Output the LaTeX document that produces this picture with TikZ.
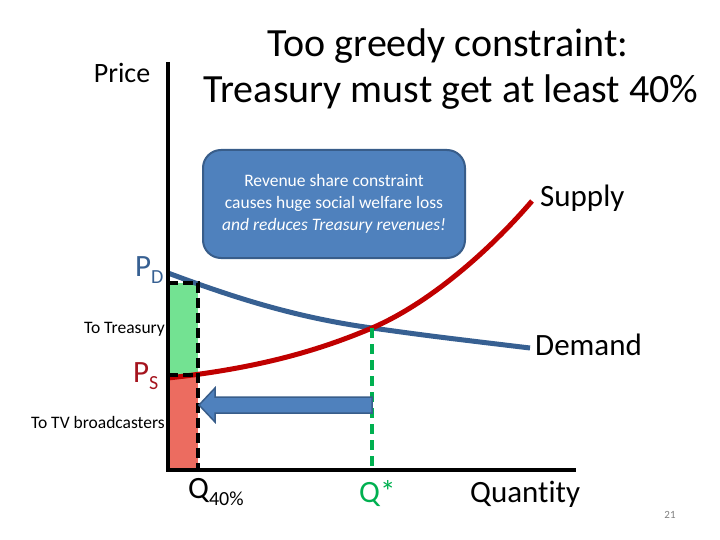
\documentclass[tikz,border=0pt]{standalone}
\usepackage{fontspec}
\setmainfont{Carlito}[Ligatures=NoCommon]
\usetikzlibrary{calc}
\usetikzlibrary{arrows.meta}

\definecolor{boxblue}{RGB}{79,129,189}
\definecolor{boxedge}{RGB}{56,93,138}
\definecolor{demandblue}{RGB}{55,96,146}
\definecolor{supplyred}{RGB}{192,0,0}
\definecolor{psred}{RGB}{165,20,30}
\definecolor{qgreen}{RGB}{0,176,80}
\definecolor{treasurygreen}{RGB}{115,226,146}
\definecolor{tvred}{RGB}{236,108,96}

\newcommand{\fsize}[2]{\fontsize{#1}{#2}\selectfont}
\newcommand{\lowsub}[1]{\raisebox{-7pt}{\fsize{20}{24}#1}}

\begin{document}
\begin{tikzpicture}[x=1pt, y=-1pt, font=\fsize{31}{37}, inner sep=0pt,
    notebox/.style={rounded corners=18pt, fill=boxblue, draw=boxedge, line width=2pt,
      text=white, align=center, minimum width=262pt, minimum height=108pt,
      font=\fsize{17.5}{22}},
    smalllabel/.style={font=\fsize{17.5}{21}},
    blackdash/.style={line width=4pt, dash pattern=on 10pt off 5pt},
    curve/.style={line width=5pt}]
  \useasboundingbox (0,0) rectangle (720,540);
  % ---------------------------------------------------------------- axes and key points
  \coordinate (o) at (168,470);
  \coordinate (ytop) at (168,62);
  \coordinate (xend) at (576,470);
  \coordinate (pd) at (168,283);
  \coordinate (ps) at (168,375);
  \coordinate (q40) at (198,470);
  \coordinate (eq) at (372,328);
  % the two shares of the price
  \fill[treasurygreen] (pd) rectangle (q40 |- ps);
  \fill[tvred] (ps) rectangle (q40);
  % demand and supply
  \draw[demandblue, curve] (168,273) .. controls (240,300) and (300,318) .. (eq)
    .. controls (430,336) .. (530,348);
  \draw[supplyred, curve] (168,378) .. controls (260,368) and (320,350) .. (eq)
    .. controls (430,303) and (490,250) .. (532,201);
  % dashed guides
  \draw[blackdash] (pd) -- (q40 |- pd) -- (q40);
  \draw[blackdash] (ps) -- (q40 |- ps);
  \draw[qgreen, line width=4pt, dash pattern=on 10pt off 6pt] (eq) -- (eq |- o);
  % axes
  \draw[line width=4pt] (ytop) -- (o) -- (xend);
  % the block arrow from Q* back to Q40%
  \filldraw[fill=boxblue, draw=boxedge, line width=1.5pt]
    (372,397) -- (215,397) -- (215,388) -- (199,405) -- (215,422) -- (215,413) -- (372,413) -- cycle;
  % ---------------------------------------------------------------- texts
  \node[notebox] (note) at (334,204)
    {Revenue share constraint\\causes huge social welfare loss\\\textit{and reduces Treasury revenues!}};
  \node[anchor=base] (title1) at (448,57) {\fsize{40}{46}Too greedy constraint:};
  \node[anchor=base] (title2) at (451,103) {\fsize{40}{46}Treasury must get at least 40\%};
  \node[anchor=base] (price) at (122,83) {\fsize{28}{34}Price};
  \node[anchor=base west] (supply) at (540,207) {Supply};
  \node[anchor=base west] (demand) at (535,355) {Demand};
  \node[anchor=base west] (quantity) at (470,502) {Quantity};
  \node[anchor=base west, text=qgreen] (qstar) at (359,502) {Q*};
  \node[anchor=base west] (q40lbl) at (188,498) {Q\lowsub{40\%}};
  \node[anchor=base west, text=demandblue] (pdlbl) at (135,276) {P\lowsub{D}};
  \node[anchor=base west, text=psred] (pslbl) at (133,382) {P\lowsub{S}};
  \node[anchor=base east, smalllabel] (treasury) at (165,333) {To Treasury};
  \node[anchor=base east, smalllabel] (tv) at (165,428) {To TV broadcasters};
  \node[text=gray, font=\fsize{11}{13}] (page) at (670,515) {21};
\end{tikzpicture}
\end{document}
